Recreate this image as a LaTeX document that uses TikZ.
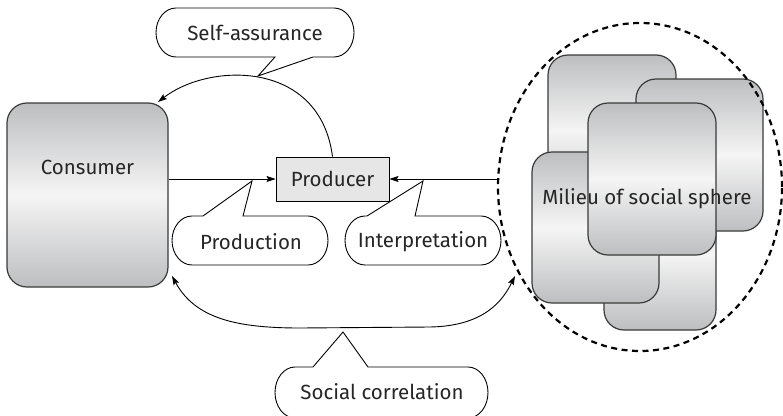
\documentclass[tikz,border=0pt]{standalone}
\usepackage{fontspec}
\setmainfont{Fira Sans}
\usetikzlibrary{arrows.meta,shapes.geometric}

\definecolor{inkgray}{HTML}{262626}
\definecolor{edgegray}{HTML}{3A3A3A}
\definecolor{shadedark}{HTML}{BDBEC0}
\definecolor{shadelight}{HTML}{F5F5F5}
\definecolor{boxfill}{HTML}{E6E6E7}

\tikzset{
  card/.style={draw=edgegray, line width=1.2pt, rounded corners=20pt,
    top color=shadedark, bottom color=shadedark, middle color=shadelight,
    inner sep=0pt},
  lbl/.style={text=inkgray, font=\fontsize{20.5}{24}\selectfont, inner sep=0pt},
  pill/.style={draw=black, line width=0.9pt, fill=white, line join=miter},
  link/.style={draw=black, line width=0.9pt},
  arr/.style={-{Stealth[length=9pt,width=6pt,inset=1.5pt]}},
  biarr/.style={{Stealth[length=9pt,width=6pt,inset=1.5pt]}-{Stealth[length=9pt,width=6pt,inset=1.5pt]}},
}

% pill-shaped callout with its pointer on the top edge
% #1 left, #2 top, #3 right, #4 bottom, #5/#6 pointer base, #7/#8 pointer tip
\newcommand{\pilltop}[8]{%
  \path[pill] (#1+20,#2) -- (#5,#2) -- (#7,#8) -- (#6,#2) -- (#3-20,#2)
    arc[start angle=-90,end angle=90,x radius=20,y radius={(#4-#2)/2}]
    -- (#1+20,#4)
    arc[start angle=90,end angle=270,x radius=20,y radius={(#4-#2)/2}]
    -- cycle;}
% same, pointer on the bottom edge (#5 right base point, #6 left base point)
\newcommand{\pillbottom}[8]{%
  \path[pill] (#1+20,#2) -- (#3-20,#2)
    arc[start angle=-90,end angle=90,x radius=20,y radius={(#4-#2)/2}]
    -- (#5,#4) -- (#7,#8) -- (#6,#4) -- (#1+20,#4)
    arc[start angle=90,end angle=270,x radius=20,y radius={(#4-#2)/2}]
    -- cycle;}

\begin{document}
\begin{tikzpicture}[x=1pt,y=-1pt]
\useasboundingbox (0,0) rectangle (783,415);

% consumer
\node[card, minimum width=161pt, minimum height=184pt] (consumer) at (87.5,195) {};
\node[lbl] (consumerText) at (87.5,167) {Consumer};

% producer
\node[draw=black, line width=0.9pt, fill=boxfill, minimum width=113pt,
      minimum height=44pt, lbl] (producer) at (332.5,179) {Producer};

% stacked cards of the social milieu
\node[card, minimum width=128pt, minimum height=152pt] (cardA) at (612,131) {};
\node[card, minimum width=112pt, minimum height=152pt] (cardD) at (660,254) {};
\node[card, minimum width=127pt, minimum height=152pt] (cardB) at (699.5,155) {};
\node[card, minimum width=127pt, minimum height=151pt] (cardC) at (595.5,227.5) {};
\node[card, minimum width=128pt, minimum height=152pt] (cardE) at (652,179) {};
\node[lbl] (milieuText) at (647,199) {Milieu of social sphere};

% dashed boundary of the social sphere
\node[draw=black, line width=2.2pt, dash pattern=on 6pt off 4.5pt, ellipse,
      minimum width=284pt, minimum height=328pt, inner sep=0pt] (sphere) at (640,187) {};

% free ends of the curved connectors
\coordinate (saEnd) at (158,102);
\coordinate (scLeft) at (172,276);
\coordinate (scRight) at (515,276);

% flows into the producer
\draw[link,arr] (producer.west -| consumer.east) -- (producer.west);
\draw[link,arr] (producer.east -| sphere.west) -- (producer.east);

% self-assurance loop back to the consumer
\draw[link,arr] (producer.north) .. controls (320,60) and (210,62) .. (saEnd);

% social correlation between consumer and milieu
\draw[link,biarr] (scLeft) .. controls (195,318) and (235,328) .. (300,328)
  -- (430,327) .. controls (485,326) and (503,300) .. (scRight);

% callouts
\pillbottom{156}{8}{354}{57}{313}{275}{258}{76}
\node[lbl] (selfText) at (255,33) {Self-assurance};

\pilltop{172}{216}{328}{265}{203}{243}{252}{181}
\node[lbl] (prodText) at (251,242) {Production};

\pilltop{345}{216}{501}{265}{367}{415}{423}{181}
\node[lbl] (interpText) at (423,242) {Interpretation};

\pilltop{275}{367}{488}{418}{313}{368}{343}{332}
\node[lbl] (socialText) at (382,392) {Social correlation};
\end{tikzpicture}
\end{document}
